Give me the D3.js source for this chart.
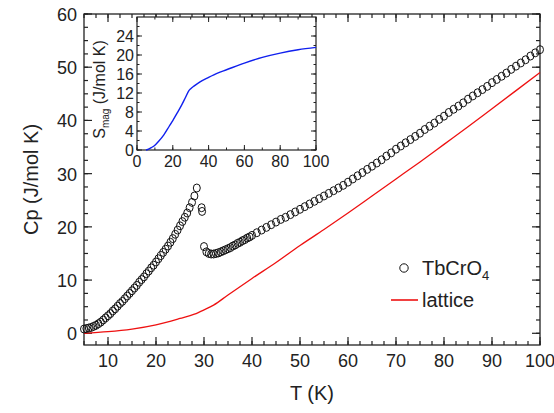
<!DOCTYPE html>
<html><head><meta charset="utf-8">
<script src="https://cdn.jsdelivr.net/npm/d3@7"></script>
<style>body{margin:0;background:#fff}text{font-family:"Liberation Sans",Arial,sans-serif;fill:#222}</style>
</head><body><svg id="c" width="554" height="413"></svg>
<script>
// Cp data (T in K, Cp in J/mol K)
const tLow = [5,5.5,6,6.5,7,7.5,8,8.5,9,9.5,10,10.5,11,11.5,12,12.5,13,13.5,14,14.5,15,15.5,16,16.5,17,17.5,18,18.5,19,19.5,20,20.5,21,21.5,22,22.5,23,23.5,24,24.5,25,25.5,26,26.5,27,27.5,28,28.5];
const cpLow = [0.8,0.9,1,1.1,1.3,1.5,1.8,2.1,2.5,2.9,3.3,3.7,4.2,4.6,5.1,5.6,6,6.5,7,7.5,8,8.5,9,9.6,10.1,10.6,11.2,11.7,12.3,12.8,13.4,14,14.6,15.2,15.8,16.4,17.1,17.8,18.6,19.4,20.2,21,21.8,22.6,23.6,24.6,25.8,27.3];
const tHigh = [29.5,29.6,30,30.5,31,31.5,32,32.5,33,33.5,34,34.5,35,35.5,36,36.5,37,37.5,38,38.5,39,39.5,40,41,42,43,44,45,46,47,48,49,50,51,52,53,54,55,56,57,58,59,60,61,62,63,64,65,66,67,68,69,70,71,72,73,74,75,76,77,78,79,80,81,82,83,84,85,86,87,88,89,90,91,92,93,94,95,96,97,98,99,100];
const cpHigh = [23.6,22.9,16.3,15.3,15,14.9,14.9,15,15.1,15.3,15.5,15.7,15.9,16.1,16.4,16.6,16.9,17.1,17.4,17.6,17.9,18.1,18.4,18.9,19.4,19.9,20.4,20.9,21.4,21.8,22.3,22.8,23.3,23.8,24.3,24.8,25.3,25.8,26.3,26.8,27.3,27.8,28.4,29,29.6,30.2,30.8,31.4,32,32.6,33.3,33.9,34.6,35.2,35.8,36.4,37,37.6,38.3,38.9,39.5,40.2,40.8,41.5,42.1,42.7,43.3,44,44.6,45.2,45.8,46.4,47.1,47.7,48.3,48.9,49.6,50.2,50.8,51.4,52.1,52.7,53.3,54];
const tLat = [5,10,15,20,25,28,30,32,35,40,45,50,55,60,65,70,75,80,85,90,95,100];
const cpLat = [0,0.3,0.8,1.6,2.8,3.6,4.4,5.3,7.2,10.3,13.3,16.5,19.5,22.6,25.8,29,32.2,35.5,38.8,42.2,45.6,49];
const tS = [5,6,8,10,12,15,18,20,22,25,27,29,30,32,35,40,45,50,60,70,80,90,100];
const sMag = [0,0.1,0.5,1,1.8,3.2,5,6.2,7.5,9.5,11,12.5,12.9,13.5,14.3,15.3,16.2,16.9,18.3,19.5,20.4,21.1,21.6];
const xTicks = [10,20,30,40,50,60,70,80,90,100];
const yTicks = [0,10,20,30,40,50,60];
const insetX = [0,20,40,60,80,100];
const insetY = [0,4,8,12,16,20,24];

const svg = d3.select("#c");
const L=84,R=540,T=14,B=345;
const x = d3.scaleLinear().domain([5,100]).range([L,R]);
const y = d3.scaleLinear().domain([-2.2,60]).range([B,T]);

function ticks(g, sc, vals, minor, side, len){
  // inward ticks on one side of a box
  minor.forEach(v=>tick(g,sc(v),side,len/2));
  vals.forEach(v=>tick(g,sc(v),side,len));
}
function tick(g,p,s,len){
  const [x1,y1,dx,dy]=s;
  if(dx===0) g.append("line").attr("x1",p).attr("x2",p).attr("y1",y1).attr("y2",y1+dy*len);
  else g.append("line").attr("y1",p).attr("y2",p).attr("x1",x1).attr("x2",x1+dx*len);
}
const g = svg.append("g").attr("stroke","#222").attr("stroke-width",1.2);
const xm = d3.range(5,101,2.5), ym = d3.range(0,61,2.5);
ticks(g,x,xTicks,xm,[0,B,0,-1],8); ticks(g,x,xTicks,xm,[0,T,0,1],8);
ticks(g,y,yTicks,ym,[L,0,1,0],8); ticks(g,y,yTicks,ym,[R,0,-1,0],8);
svg.append("rect").attr("x",L).attr("y",T).attr("width",R-L).attr("height",B-T).attr("fill","none").attr("stroke","#222").attr("stroke-width",1.3);
xTicks.forEach(v=>svg.append("text").attr("x",x(v)).attr("y",B+22).attr("text-anchor","middle").attr("font-size",18).text(v));
yTicks.forEach(v=>svg.append("text").attr("x",L-7).attr("y",y(v)+7).attr("text-anchor","end").attr("font-size",18).text(v));
svg.append("text").attr("x",(L+R)/2).attr("y",B+55).attr("text-anchor","middle").attr("font-size",20).text("T (K)");
svg.append("text").attr("transform",`translate(${L-46},${(T+B)/2}) rotate(-90)`).attr("text-anchor","middle").attr("font-size",20).text("Cp (J/mol K)");

// lattice
svg.append("path").datum(tLat.map((t,i)=>[t,cpLat[i]])).attr("fill","none").attr("stroke","#ee1111").attr("stroke-width",1.3)
  .attr("d",d3.line().x(d=>x(d[0])).y(d=>y(d[1])).curve(d3.curveMonotoneX));
// Cp points
const pts = tLow.map((t,i)=>[t,cpLow[i]]).concat(tHigh.map((t,i)=>[t,cpHigh[i]]));
svg.append("g").selectAll("ellipse").data(pts).join("ellipse").attr("cx",d=>x(d[0])).attr("cy",d=>y(d[1])).attr("rx",3.5).attr("ry",4)
  .attr("fill","none").attr("stroke","#111").attr("stroke-width",1);

// legend
svg.append("circle").attr("cx",404).attr("cy",268).attr("r",4.2).attr("fill","none").attr("stroke","#111");
svg.append("text").attr("x",422).attr("y",275).attr("font-size",20).text("TbCrO").append("tspan").attr("font-size",13).attr("dy",5).text("4");
svg.append("line").attr("x1",391).attr("x2",418).attr("y1",300).attr("y2",300).attr("stroke","#ee1111").attr("stroke-width",1.6);
svg.append("text").attr("x",422).attr("y",307).attr("font-size",20).text("lattice");

// inset
const iL=137,iR=316,iT=17,iB=150;
const ix = d3.scaleLinear().domain([0,100]).range([iL,iR]);
const iy = d3.scaleLinear().domain([0,28]).range([iB,iT]);
svg.append("rect").attr("x",iL).attr("y",iT).attr("width",iR-iL).attr("height",iB-iT).attr("fill","#fff");
const gi = svg.append("g").attr("stroke","#222").attr("stroke-width",1);
const ixm=d3.range(0,101,10), iym=d3.range(0,28,2);
ticks(gi,ix,insetX,ixm,[0,iB,0,-1],5); ticks(gi,ix,insetX,ixm,[0,iT,0,1],5);
ticks(gi,iy,insetY,iym,[iL,0,1,0],5); ticks(gi,iy,insetY,iym,[iR,0,-1,0],5);
svg.append("rect").attr("x",iL).attr("y",iT).attr("width",iR-iL).attr("height",iB-iT).attr("fill","none").attr("stroke","#222").attr("stroke-width",1.2);
svg.append("path").datum(tS.map((t,i)=>[t,sMag[i]])).attr("fill","none").attr("stroke","#1020ee").attr("stroke-width",1.4)
  .attr("d",d3.line().x(d=>ix(d[0])).y(d=>iy(d[1])).curve(d3.curveMonotoneX));
insetX.forEach(v=>svg.append("text").attr("x",ix(v)).attr("y",iB+17).attr("text-anchor","middle").attr("font-size",16).text(v));
insetY.forEach(v=>svg.append("text").attr("x",iL-3).attr("y",iy(v)+6).attr("text-anchor","end").attr("font-size",16).text(v));
const yl = svg.append("text").attr("transform",`translate(${iL-32},${(iT+iB)/2+6}) rotate(-90)`).attr("text-anchor","middle").attr("font-size",16);
yl.append("tspan").text("S");
yl.append("tspan").attr("font-size",10).attr("dy",4).text("mag");
yl.append("tspan").attr("dy",-4).text(" (J/mol K)");
</script></body></html>
